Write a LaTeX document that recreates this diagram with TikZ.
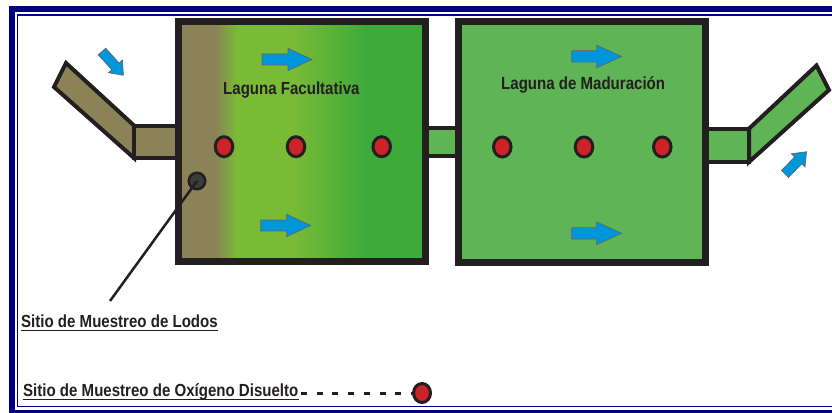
\documentclass[tikz,border=0pt]{standalone}
\usepackage{fontspec}
\usetikzlibrary{shapes.geometric}
\newfontfamily\labfont[FakeStretch=0.86]{Liberation Sans}
\definecolor{navyb}{RGB}{0,0,128}
\definecolor{inkc}{RGB}{35,31,32}
\definecolor{olivec}{RGB}{140,130,88}
\definecolor{ygreen}{RGB}{122,187,54}
\definecolor{dgreen}{RGB}{62,170,58}
\definecolor{matgreen}{RGB}{95,180,85}
\definecolor{dotred}{RGB}{204,34,41}
\definecolor{flowblue}{RGB}{0,150,219}
\definecolor{sludge}{RGB}{60,60,60}
\pgfdeclarehorizontalshading{facshade}{100bp}{color(0bp)=(olivec); color(32.5bp)=(olivec); color(37bp)=(ygreen); color(48bp)=(ygreen); color(63bp)=(dgreen); color(100bp)=(dgreen)}
\newcommand\flowarr[7]{%
  \filldraw[flowarrow, shift={(#1,#2)}, rotate=#3]
    (0,-#5) -- (#4-#7,-#5) -- (#4-#7,-#6) -- (#4,0) -- (#4-#7,#6) -- (#4-#7,#5) -- (0,#5) -- cycle;}
\begin{document}
\begin{tikzpicture}[x=1pt,y=-1pt,
  pipe/.style={draw=inkc, line width=4},
  lagoon/.style={draw=inkc, line width=7},
  odot/.style={ellipse, draw=inkc, fill=dotred, line width=3, minimum width=17.5, minimum height=20, inner sep=0},
  sdot/.style={circle, draw=inkc, fill=sludge, line width=2.5, minimum size=16.5, inner sep=0},
  flowarrow/.style={fill=flowblue, draw=inkc!70, line width=0.6},
  lab/.style={font=\labfont\bfseries\fontsize{17.5}{20}\selectfont, text=inkc, inner sep=0, anchor=base west},
  uline/.style={draw=inkc, line width=1.3}]
\useasboundingbox (0,0) rectangle (832,412);
% frame
\draw[navyb, line width=6] (12,9) rectangle (845,413);
\draw[navyb, line width=1.5] (17.3,15) rectangle (840,406.5);
% pipes
\filldraw[pipe, fill=olivec] (66,63) -- (134,125.5) -- (134,158) -- (54,87) -- cycle;
\filldraw[pipe, fill=olivec] (134,125.5) rectangle (178,158);
\filldraw[pipe, fill=matgreen] (425,128) rectangle (458,155.5);
\filldraw[pipe, fill=matgreen] (705,128.7) rectangle (749,162);
\filldraw[pipe, fill=matgreen] (749,128.7) -- (816.5,65.5) -- (829,90) -- (749,162) -- cycle;
% lagoons
\shade[shading=facshade] (178,22) rectangle (425,261.5);
\draw[lagoon] (178,22) rectangle (425,261.5);
\filldraw[lagoon, fill=matgreen] (458,22) rectangle (705,262);
% labels
\node[lab] (fac) at (223,94.5) {Laguna Facultativa};
\node[lab] (mat) at (501,89.5) {Laguna de Maduración};
% flow arrows
\flowarr{262}{59.5}{0}{50}{5.5}{11.2}{24}
\flowarr{260.7}{225.5}{0}{50}{5.5}{11.2}{24}
\flowarr{571.7}{56.5}{0}{50}{5.7}{11.3}{25}
\flowarr{571.7}{233.3}{0}{50}{5.7}{11.3}{25}
\flowarr{102}{51.5}{-48}{32}{5}{9.5}{12}
\flowarr{785}{174}{46}{31}{5}{9.5}{12}
% oxygen sampling points
\node[odot] (f1) at (224,146.7) {};
\node[odot] (f2) at (296,146.7) {};
\node[odot] (f3) at (381.7,146.7) {};
\node[odot] (m1) at (502.3,147) {};
\node[odot] (m2) at (584,147) {};
\node[odot] (m3) at (662.3,147) {};
% sludge sampling point
\node[sdot] (lodo) at (197,181) {};
\coordinate (lodoend) at (110,301);
\draw[inkc, line width=2.5] (lodo.center) -- (lodoend);
% legend
\node[lab] (leg1) at (21,327.5) {Sitio de Muestreo de Lodos};
\draw[uline] ([yshift=-2.8pt]leg1.base west) -- ([yshift=-2.8pt]leg1.base east);
\node[lab] (leg2) at (23,396.5) {Sitio de Muestreo de Oxígeno Disuelto};
\draw[uline] ([yshift=-3pt]leg2.base west) -- ([yshift=-3pt]leg2.base east);
\node[odot, minimum width=17, minimum height=19] (legdot) at (422,393) {};
\coordinate (dashstart) at (301,393.5);
\draw[inkc, line width=3.2, dash pattern=on 6pt off 9.7pt] (dashstart) -- (legdot.west |- dashstart);
\end{tikzpicture}
\end{document}
